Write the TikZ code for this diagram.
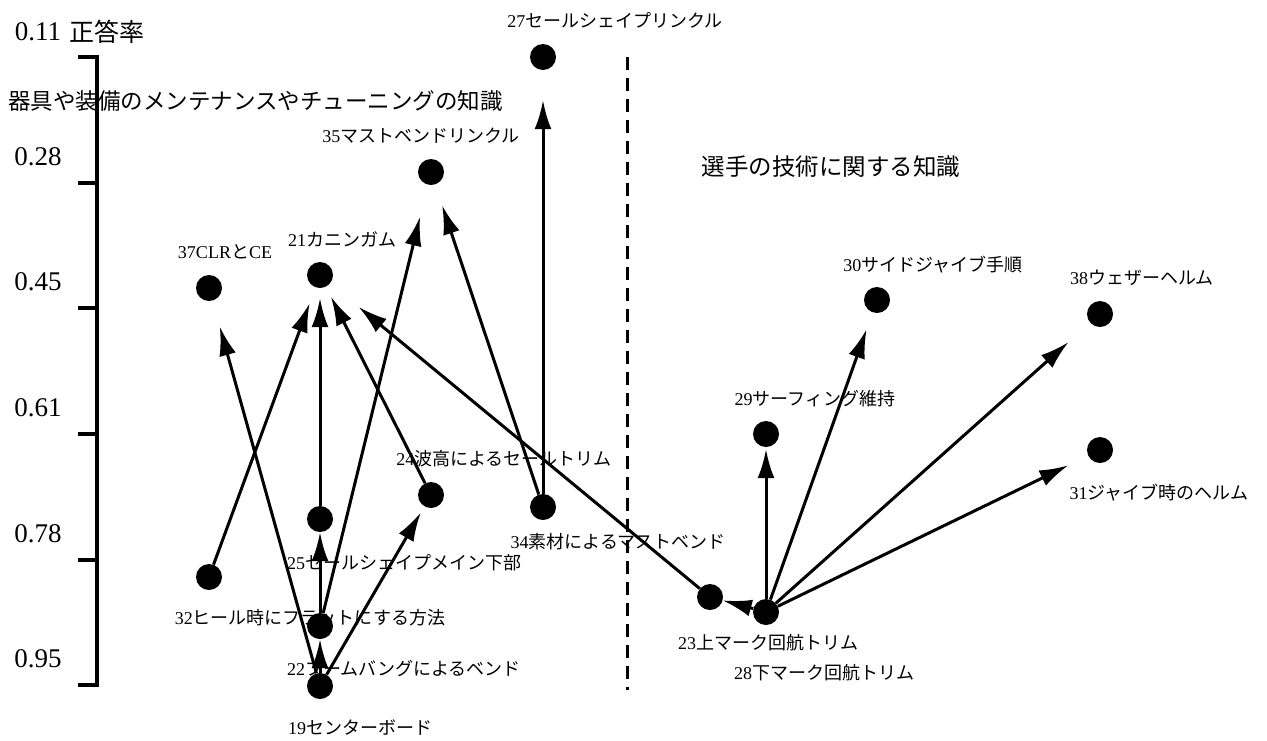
\documentclass[tikz,border=0pt]{standalone}
\usepackage{fontspec}
\setmainfont{Liberation Serif}
\newfontfamily\jp{Noto Sans CJK JP}
\usetikzlibrary{arrows.meta}

\newcommand{\jlab}[2]{#1{\jp #2}}

\tikzset{
  dot/.style={circle,fill=black,inner sep=0pt,minimum size=26pt},
  lbl/.style={font=\fontsize{18}{20}\selectfont,inner sep=0pt},
  ticklbl/.style={font=\fontsize{27}{30}\selectfont,inner sep=0pt},
  arr/.style={-{Latex[length=29pt,width=17pt]},line width=3pt},
}

\begin{document}
\begin{tikzpicture}[x=1pt,y=-1pt]
  \useasboundingbox (0,0) rectangle (1267,740);

  % axis
  \draw[line width=3.5pt] (78,57) -- (97,57) -- (97,685) -- (78,685);
  \foreach \yy in {183,308,434,560}
    \draw[line width=3.5pt] (78,\yy) -- (97,\yy);
  \node[ticklbl] (t11) at (38,32) {0.11};
  \node[ticklbl] (t28) at (38,157) {0.28};
  \node[ticklbl] (t45) at (38,282) {0.45};
  \node[ticklbl] (t61) at (38,408) {0.61};
  \node[ticklbl] (t78) at (38,534) {0.78};
  \node[ticklbl] (t95) at (38,659) {0.95};
  \node[inner sep=0pt,font=\fontsize{25}{28}\selectfont\jp] (title) at (107,32) {正答率};

  % divider
  \draw[line width=3pt,dash pattern=on 13pt off 8pt] (627,57) -- (627,690);
  \node[inner sep=0pt,font=\fontsize{22.5}{25}\selectfont\jp,anchor=west] (left) at (8,101) {器具や装備のメンテナンスやチューニングの知識};
  \node[inner sep=0pt,font=\fontsize{23.5}{26}\selectfont\jp] (right) at (831,167) {選手の技術に関する知識};

  % items
  \node[dot] (n27) at (543,57) {};
  \node[dot] (n35) at (431,172) {};
  \node[dot] (n21) at (320,275) {};
  \node[dot] (n37) at (209,288) {};
  \node[dot] (n24) at (431,495) {};
  \node[dot] (n34) at (543,507) {};
  \node[dot] (n25) at (320,519) {};
  \node[dot] (n32) at (209,577) {};
  \node[dot] (n22) at (320,626) {};
  \node[dot] (n19) at (320,686) {};
  \node[dot] (n23) at (710,597) {};
  \node[dot] (n28) at (766,612) {};
  \node[dot] (n29) at (766,434) {};
  \node[dot] (n30) at (877,300) {};
  \node[dot] (n38) at (1100,314) {};
  \node[dot] (n31) at (1100,450) {};

  \node[lbl] (l27) at (615,20) {\jlab{27}{セールシェイプリンクル}};
  \node[lbl] (l35) at (421,136) {\jlab{35}{マストベンドリンクル}};
  \node[lbl] (l21) at (342,239) {\jlab{21}{カニンガム}};
  \node[lbl] (l37) at (225,252) {37CLR{\jp と}CE};
  \node[lbl] (l24) at (504,459) {\jlab{24}{波高によるセールトリム}};
  \node[lbl] (l34) at (618,542) {\jlab{34}{素材によるマストベンド}};
  \node[lbl] (l25) at (404,563) {\jlab{25}{セールシェイプメイン下部}};
  \node[lbl] (l32) at (310,618) {\jlab{32}{ヒール時にフラットにする方法}};
  \node[lbl] (l22) at (404,668) {\jlab{22}{ブームバングによるベンド}};
  \node[lbl] (l19) at (360,728) {\jlab{19}{センターボード}};
  \node[lbl] (l23) at (768,643) {\jlab{23}{上マーク回航トリム}};
  \node[lbl] (l28) at (824,673) {\jlab{28}{下マーク回航トリム}};
  \node[lbl] (l29) at (815,399) {\jlab{29}{サーフィング維持}};
  \node[lbl] (l30) at (933,265) {\jlab{30}{サイドジャイブ手順}};
  \node[lbl] (l38) at (1142,278) {\jlab{38}{ウェザーヘルム}};
  \node[lbl] (l31) at (1159,493) {\jlab{31}{ジャイブ時のヘルム}};

  % links
  \draw[arr,shorten >=27pt] (n19) -- (n37);
  \draw[arr] (n19) -- (n22);
  \draw[arr,shorten >=7pt] (n19) -- (n24);
  \draw[arr] (n22) -- (n25);
  \draw[arr,shorten >=33pt] (n22) -- (n35);
  \draw[arr,shorten >=17pt] (n32) -- (n21);
  \draw[arr,shorten >=10pt] (n25) -- (n21);
  \draw[arr,shorten >=11pt] (n24) -- (n21);
  \draw[arr,shorten >=37pt] (n23) -- (n21);
  \draw[arr,shorten >=22pt] (n34) -- (n35);
  \draw[arr,shorten >=30pt] (n34) -- (n27);
  \draw[arr] (n28) -- (n23);
  \draw[arr,shorten >=2pt] (n28) -- (n29);
  \draw[arr,shorten >=18pt] (n28) -- (n30);
  \draw[arr,shorten >=29pt] (n28) -- (n38);
  \draw[arr,shorten >=22pt] (n28) -- (n31);
\end{tikzpicture}
\end{document}
